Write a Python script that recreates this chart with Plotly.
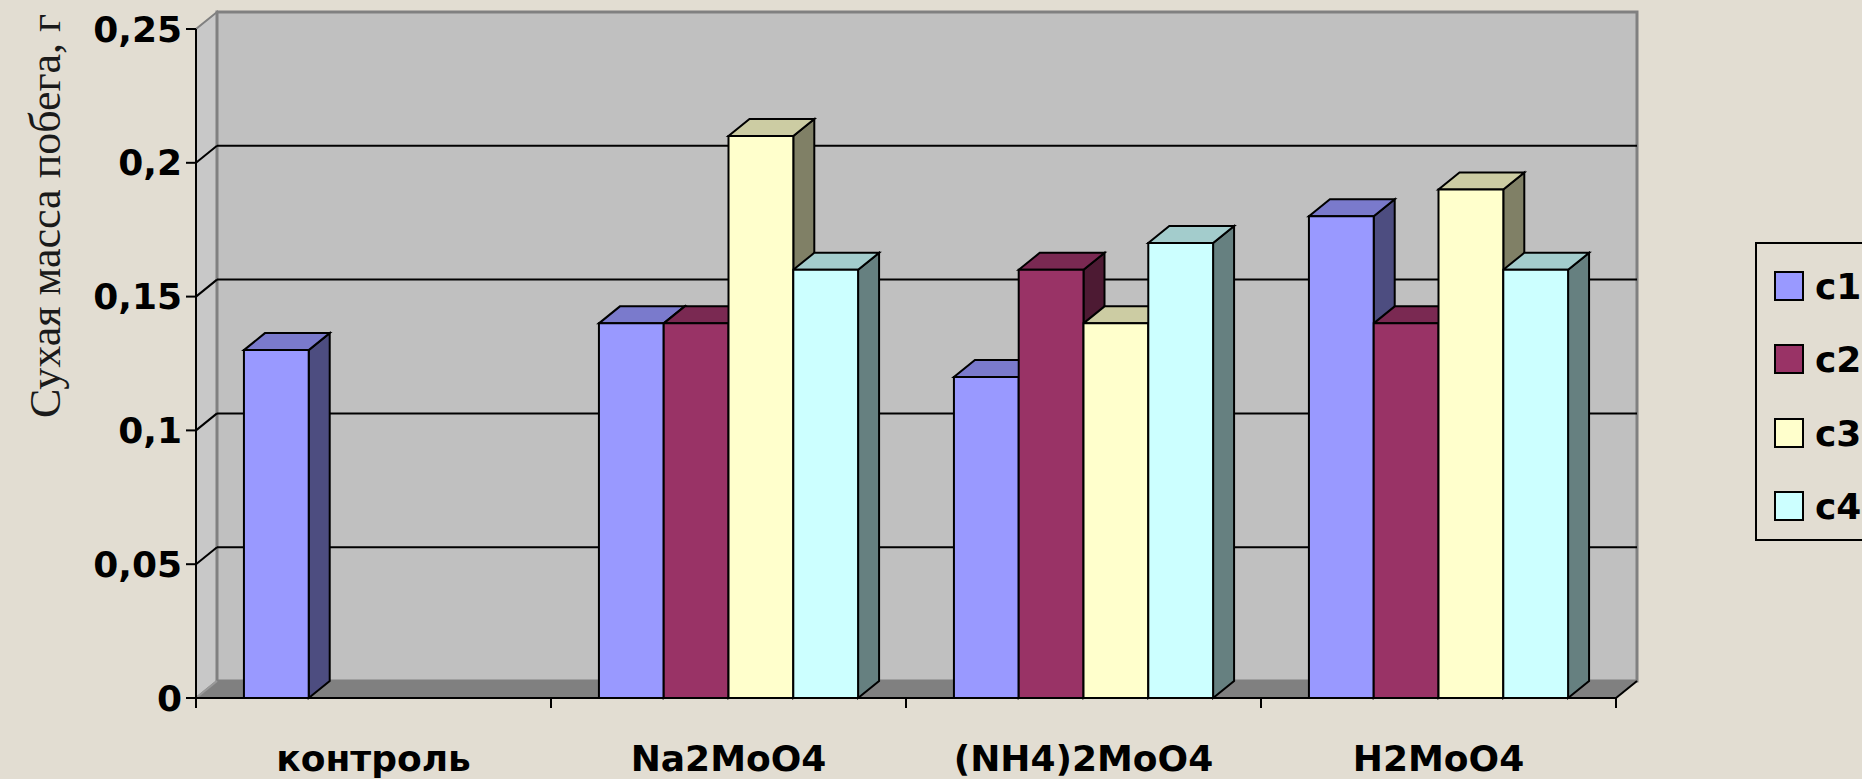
import plotly.graph_objects as go

# ---- data ----
categories = ["контроль", "Na2MoO4", "(NH4)2MoO4", "H2MoO4"]
series_names = ["c1", "c2", "c3", "c4"]
c1 = [0.13, 0.14, 0.12, 0.18]
c2 = [None, 0.14, 0.16, 0.14]
c3 = [None, 0.21, 0.14, 0.19]
c4 = [None, 0.16, 0.17, 0.16]
y_ticks = [0, 0.05, 0.1, 0.15, 0.2, 0.25]
y_tick_labels = ["0", "0,05", "0,1", "0,15", "0,2", "0,25"]
y_title = "Сухая масса побега, г"

# ---- styles ----
front_colors = ["#9999FF", "#993366", "#FFFFCC", "#CCFFFF"]
top_colors = ["#7A7ACC", "#7A2952", "#CCCCA3", "#A3CCCC"]
side_colors = ["#4D4D80", "#4D1A33", "#808066", "#668080"]
PAPER = "#E2DDD2"
WALL = "#C0C0C0"
SIDE_WALL = "#C8C8C8"
FLOOR = "#808080"
EDGE = "#808080"
BOLD_FONT = dict(family="DejaVu Sans", size=36, color="black", weight="bold")

# ---- pixel geometry of the 3-D box ----
W, H = 1862, 779
FRONT_L, FRONT_R = 196, 1616
FRONT_B, FRONT_T = 698, 29
DEPTH_X, DEPTH_Y = 21, 17
TICK_LEN = 10
AREA_L = FRONT_L - TICK_LEN
AREA_R = FRONT_R + DEPTH_X + 3
AREA_T = 8
AREA_B = FRONT_B + TICK_LEN

YMAX = y_ticks[-1]
n = len(categories)
ux = (FRONT_R - FRONT_L) / n
uy = (FRONT_B - FRONT_T) / YMAX
DX = DEPTH_X / ux
DY = DEPTH_Y / uy
x_range = [-0.5 - TICK_LEN / ux, n - 0.5 + (AREA_R - FRONT_R) / ux]
y_range = [-TICK_LEN / uy, YMAX + (FRONT_T - AREA_T) / uy]

BARGAP = 0.27
bw = (1 - BARGAP) / len(series_names)
XL, XR = -0.5, n - 0.5


def poly(points):
    return "M " + " L ".join(f"{x},{y}" for x, y in points) + " Z"


shapes = []


def add_poly(points, fill, line_color, line_width=2, layer="below"):
    shapes.append(dict(type="path", path=poly(points), xref="x", yref="y",
                       fillcolor=fill, line=dict(color=line_color, width=line_width),
                       layer=layer))


def add_line(x0, y0, x1, y1, color="black", width=2, layer="below"):
    shapes.append(dict(type="line", x0=x0, y0=y0, x1=x1, y1=y1, xref="x", yref="y",
                       line=dict(color=color, width=width), layer=layer))


# walls and floor
add_poly([(XL, 0), (XL + DX, DY), (XL + DX, YMAX + DY), (XL, YMAX)], SIDE_WALL, EDGE, 2)
add_poly([(XL + DX, DY), (XR + DX, DY), (XR + DX, YMAX + DY), (XL + DX, YMAX + DY)], WALL, EDGE, 3)
add_poly([(XL, 0), (XR, 0), (XR + DX, DY), (XL + DX, DY)], FLOOR, FLOOR, 1)

# gridlines on the back wall with their slanted continuation on the side wall
for v in y_ticks[1:-1]:
    add_line(XL + DX, v + DY, XR + DX, v + DY)
    add_line(XL, v, XL + DX, v + DY)
add_line(XL, 0, XL + DX, DY, color="#9A9A9A", width=2)

# axis lines and tick marks
add_line(XL, 0, XL, YMAX)
add_line(XL, 0, XR, 0)
add_line(XR, 0, XR + DX, DY)
for v in y_ticks:
    add_line(XL - TICK_LEN / ux, v, XL, v)
for k in range(n + 1):
    add_line(XL + k, 0, XL + k, -TICK_LEN / uy)

# depth faces (top and right side) of every column, left to right
series_values = [c1, c2, c3, c4]
for i in range(n):
    for j, vals in enumerate(series_values):
        v = vals[i]
        if v is None:
            continue
        x0 = i - (1 - BARGAP) / 2 + j * bw
        x1 = x0 + bw
        add_poly([(x1, 0), (x1 + DX, DY), (x1 + DX, v + DY), (x1, v)], side_colors[j], "black", 2)
        add_poly([(x0, v), (x1, v), (x1 + DX, v + DY), (x0 + DX, v + DY)], top_colors[j], "black", 2)

fig = go.Figure()
for j, vals in enumerate(series_values):
    fig.add_trace(go.Bar(
        x=list(range(n)), y=vals, name=series_names[j],
        marker=dict(color=front_colors[j], line=dict(color="black", width=2)),
        showlegend=False, hoverinfo="skip",
    ))


# paper coordinates are relative to the plotting area
def px_x(x):
    return (x - AREA_L) / (AREA_R - AREA_L)


def px_y(y):
    return (AREA_B - y) / (AREA_B - AREA_T)


# legend drawn as a framed box with colour swatches
LEG_L, LEG_T, LEG_B = 1756, 243, 540
SW_L, SW_SIZE = 1775, 28
SW_CENTERS = [286, 359, 433, 506]
TXT_L = 1813

shapes.append(dict(type="rect", xref="paper", yref="paper",
                   x0=px_x(LEG_L), x1=px_x(W + 10), y0=px_y(LEG_B), y1=px_y(LEG_T),
                   line=dict(color="black", width=2), fillcolor="rgba(0,0,0,0)", layer="above"))
annotations = []
for j, name in enumerate(series_names):
    cy = SW_CENTERS[j]
    shapes.append(dict(type="rect", xref="paper", yref="paper",
                       x0=px_x(SW_L), x1=px_x(SW_L + SW_SIZE),
                       y0=px_y(cy + SW_SIZE / 2), y1=px_y(cy - SW_SIZE / 2),
                       line=dict(color="black", width=2), fillcolor=front_colors[j], layer="above"))
    annotations.append(dict(xref="paper", yref="paper", x=px_x(TXT_L), y=px_y(cy),
                            xanchor="left", yanchor="middle", text=name, showarrow=False,
                            font=BOLD_FONT))

annotations.append(dict(xref="paper", yref="paper", x=px_x(45), y=px_y(216),
                        xanchor="center", yanchor="middle", text=y_title, textangle=-90,
                        showarrow=False,
                        font=dict(family="Liberation Serif", size=44, color="#1A1A1A")))

fig.update_layout(
    width=W, height=H,
    margin=dict(l=AREA_L, r=W - AREA_R, t=AREA_T, b=H - AREA_B, pad=0, autoexpand=False),
    paper_bgcolor=PAPER, plot_bgcolor=PAPER,
    barmode="group", bargap=BARGAP, bargroupgap=0,
    shapes=shapes, annotations=annotations,
    showlegend=False,
    xaxis=dict(range=x_range, tickvals=list(range(n)), ticktext=categories,
               ticks="", showgrid=False, zeroline=False, showline=False, automargin=False,
               tickfont=BOLD_FONT, ticklabelstandoff=26, fixedrange=True),
    yaxis=dict(range=y_range, tickvals=y_ticks, ticktext=y_tick_labels,
               ticks="", showgrid=False, zeroline=False, showline=False, automargin=False,
               tickfont=BOLD_FONT, ticklabelstandoff=3, fixedrange=True),
)

fig.write_html("out.html")
